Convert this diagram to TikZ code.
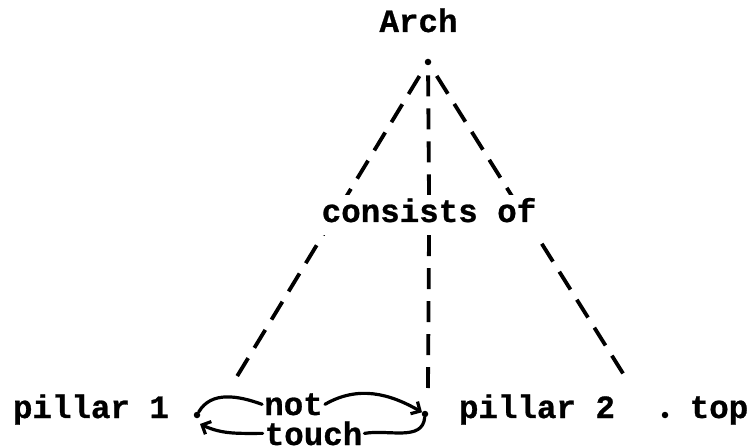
\documentclass[tikz,border=0pt]{standalone}
\usepackage{fontspec}
\setmainfont{Liberation Mono}[BoldFeatures={FakeBold=0.8}]
\usetikzlibrary{arrows.meta}
\begin{document}
\begin{tikzpicture}[x=1pt,y=-1pt,
  lbl/.style={font=\fontsize{32.5}{36}\selectfont\bfseries, inner sep=0pt, anchor=base},
  rlbl/.style={lbl, inner xsep=2pt},
  pt/.style={circle, fill=black, inner sep=0pt, minimum size=6.5pt},
  dashline/.style={line width=3.8pt, dash pattern=on 21pt off 12pt},
  rel/.style={line width=3.2pt, line cap=round},
  tip/.style={-{Straight Barb[length=7pt,width=14pt]}}]
\useasboundingbox (0,0) rectangle (754,446);
% top
\node[lbl] (arch) at (418.5,32) {Arch};
\node[pt] (apex) at (428,62) {};
% dashed slanted lines
\coordinate (lb) at (233,383);
\coordinate (rb) at (629,383);
\coordinate (mb) at (428,388);
\draw[dashline, shorten <=13pt] (apex) -- (lb);
\draw[dashline, shorten <=13pt] (apex) -- (rb);
% label that interrupts the lines
\node[lbl, fill=white, text height=20pt, text depth=6pt, inner ysep=7pt, inner xsep=3pt] (cons) at (429,222) {consists of};
\draw[dashline, shorten <=10pt] (apex) -- (cons.north);
\draw[dashline] (cons.south) -- (mb);
% bottom row
\node[lbl] (pil1) at (91,418) {pillar 1};
\node[pt] (p1) at (197,415) {};
\node[rlbl] (notn) at (293.5,415) {not};
\node[rlbl] (touchn) at (313.5,445) {touch};
\node[pt] (p2) at (425,414) {};
\node[lbl] (pil2) at (537,418) {pillar 2};
\node[pt] (p3) at (665,415) {};
\node[lbl] (topn) at (719,418) {top};
% relations
\draw[rel] (p1) to[out=60,in=160] (notn.west);
\draw[rel,tip] (notn.east) to[out=30,in=150] (p2);
\draw[rel] (p2) to[out=-95,in=10] (touchn.east);
\draw[rel,tip] (touchn.west) to[out=180,in=-25] ([xshift=3pt,yshift=-9pt]p1.center);
\end{tikzpicture}
\end{document}
